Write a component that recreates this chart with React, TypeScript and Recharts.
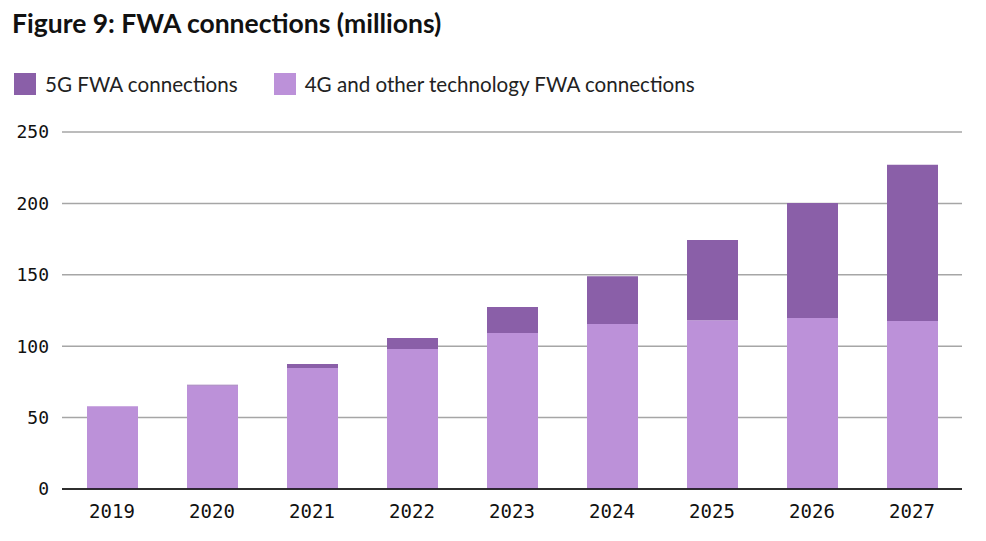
import { BarChart, Bar, XAxis, YAxis, CartesianGrid } from "recharts";

const years = ["2019", "2020", "2021", "2022", "2023", "2024", "2025", "2026", "2027"];
const fourG = [58, 72.5, 84.7, 98, 109.2, 115.5, 118.1, 119.7, 117.6];
const fiveG = [0, 0.5, 2.8, 7.7, 18.3, 33.5, 56.3, 80.6, 109.5];
const yTicks = [0, 50, 100, 150, 200, 250];

const DARK = "#8a5fa8";
const LIGHT = "#bc91d9";

const data = years.map((year, i) => ({ year, fourG: fourG[i], fiveG: fiveG[i] }));

const yTickStyle = { fill: "#111", fontSize: 18, fontFamily: "DejaVu Sans Mono, monospace" };
const xTickStyle = { fill: "#111", fontSize: 19, fontFamily: "DejaVu Sans Mono, monospace" };

export default function App() {
  return (
    <div style={{ position: "absolute", left: 0, top: 0, width: 986, height: 541, background: "#fff", fontFamily: "Lato, sans-serif" }}>
      <div style={{ position: "absolute", left: 12, top: 7, fontSize: 26.5, fontWeight: 700, color: "#111", whiteSpace: "nowrap" }}>
        Figure 9: FWA connections (millions)
      </div>
      <div style={{ position: "absolute", left: 14, top: 72, display: "flex", alignItems: "center", fontSize: 20.6, color: "#222", whiteSpace: "nowrap" }}>
        <span style={{ width: 22, height: 22, background: DARK, display: "inline-block" }} />
        <span style={{ marginLeft: 9 }}>5G FWA connections</span>
        <span style={{ width: 22, height: 22, background: LIGHT, display: "inline-block", marginLeft: 36 }} />
        <span style={{ marginLeft: 9 }}>4G and other technology FWA connections</span>
      </div>
      <div style={{ position: "absolute", left: 0, top: 0 }}>
        <BarChart width={986} height={541} data={data} margin={{ top: 132, right: 24, bottom: 22, left: 0 }}>
          <CartesianGrid vertical={false} stroke="#a6a6a6" strokeWidth={1.5} />
          <XAxis
            dataKey="year"
            tick={xTickStyle}
            tickLine={false}
            axisLine={{ stroke: "#000", strokeWidth: 1.5 }}
            tickMargin={10}
            height={30}
          />
          <YAxis
            domain={[0, 250]}
            ticks={yTicks}
            tick={yTickStyle}
            tickLine={false}
            axisLine={false}
            tickMargin={7}
            width={62}
          />
          <Bar dataKey="fourG" stackId="a" fill={LIGHT} barSize={51} isAnimationActive={false} />
          <Bar dataKey="fiveG" stackId="a" fill={DARK} barSize={51} isAnimationActive={false} />
        </BarChart>
      </div>
    </div>
  );
}
